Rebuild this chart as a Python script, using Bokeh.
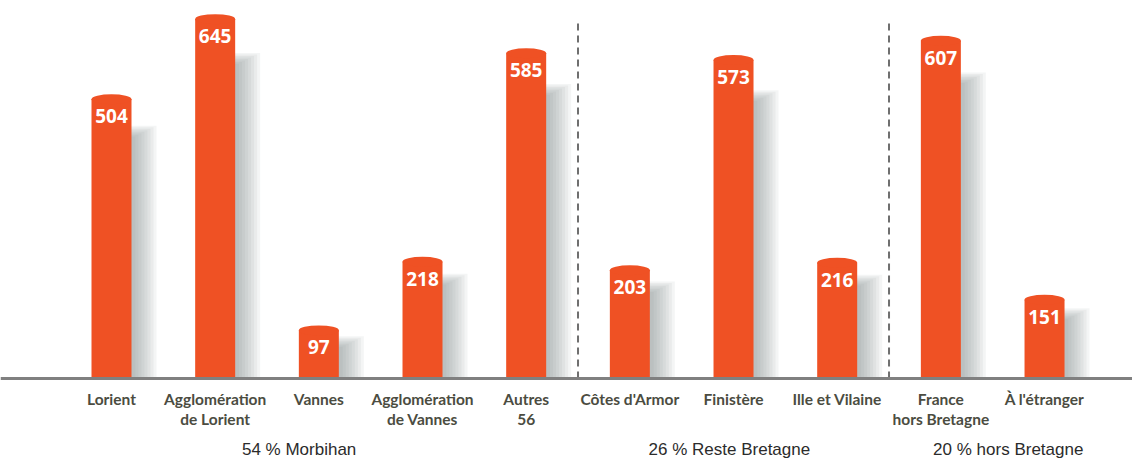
import numpy as np
from bokeh.plotting import figure
from bokeh.models import Range1d, Span
from bokeh.core.properties import value
from bokeh.embed import file_html
from bokeh.resources import INLINE

# ---- data ----
categories = ["Lorient", "Agglomération\nde Lorient", "Vannes", "Agglomération\nde Vannes",
              "Autres\n56", "Côtes d'Armor", "Finistère", "Ille et Vilaine",
              "France\nhors Bretagne", "À l'étranger"]
counts = [504, 645, 97, 218, 585, 203, 573, 216, 607, 151]
group_labels = ["54 % Morbihan", "26 % Reste Bretagne", "20 % hors Bretagne"]
group_sizes = [5, 3, 2]

# ---- style / layout ----
W, H = 1132, 459
X0, X1 = -1.0707, -1.0707 + W / 103.67
Y1 = 677.8
Y0 = Y1 - H / 0.568
PX_X = W / (X1 - X0)
PX_Y = H / (Y1 - Y0)
AXIS_V = 12.3
BAR_W = 40 / PX_X
ORANGE = "#ef5124"
LABEL_COLOR = "#4b4c41"
GROUP_X = [1.81, 5.96, 8.65]
DASH_TOP = 646
GROUP_Y = Y0 + 0.5 / PX_Y

p = figure(width=W, height=H, output_backend="svg", toolbar_location=None,
           x_range=Range1d(X0, X1), y_range=Range1d(Y0, Y1),
           min_border=0, outline_line_color=None)
p.axis.visible = False
p.grid.visible = False
p.background_fill_color = "white"
p.border_fill_color = "white"

idx = np.arange(len(categories), dtype=float)
vals = np.array(counts, dtype=float)

# shadows (stacked translucent layers to imitate blur)
h_px = (vals - AXIS_V) * PX_Y
core_top_px = h_px - (12 + 0.09 * h_px)
for e in [0, 3, 6, 9, 12, 15, 18, 21]:
    right = idx + (20 + 4 + e) / PX_X
    top = AXIS_V + (core_top_px + e / 2) / PX_Y
    p.quad(left=idx, right=right, bottom=AXIS_V, top=top,
           fill_color="#80868c", fill_alpha=0.085, line_color=None)

# bars
p.vbar(x=idx, width=BAR_W, bottom=AXIS_V, top=vals, fill_color=ORANGE, line_color=None)
p.ellipse(x=idx, y=vals, width=BAR_W, height=10, height_units="screen",
          fill_color=ORANGE, line_color=None)

# value labels
p.text(x=idx, y=vals, text=[str(c) for c in counts], text_align="center",
       text_baseline="middle", y_offset=17, text_color="white",
       text_font=value("Open Sans"), text_font_style="bold", text_font_size="19px")

# baseline
p.add_layout(Span(location=AXIS_V, dimension="width", line_color="#808080", line_width=3))

# group separators
bounds = np.cumsum(group_sizes)[:-1] - 0.5
p.segment(x0=bounds, x1=bounds, y0=[AXIS_V] * len(bounds), y1=[DASH_TOP] * len(bounds),
          line_color="#6f6f6f", line_width=2, line_dash="7 5")

# category labels
p.text(x=idx, y=[AXIS_V] * len(idx), text=categories, text_align="center",
       text_baseline="top", y_offset=11, text_color=LABEL_COLOR,
       text_font=value("Lato"), text_font_style="bold",
       text_font_size="15.5px", text_line_height=1.15)

# group labels
p.text(x=GROUP_X, y=[GROUP_Y] * 3, text=group_labels, text_align="center",
       text_baseline="bottom", text_color="#2b2b2b",
       text_font=value("Liberation Sans"), text_font_size="17px")

open("out.html", "w").write(file_html(p, INLINE))
